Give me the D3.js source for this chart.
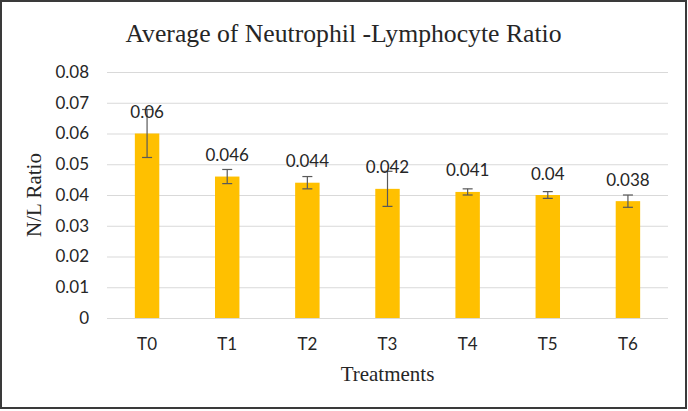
<!DOCTYPE html>
<html>
<head>
<meta charset="utf-8">
<script src="https://cdn.jsdelivr.net/npm/d3@7"></script>
<style>
  body { margin: 0; background: #fff; }
  svg text { fill: #262626; }
</style>
</head>
<body>
<div id="chart"></div>
<script>
var treatments = ['T0', 'T1', 'T2', 'T3', 'T4', 'T5', 'T6'];
var ratios = [0.06, 0.046, 0.044, 0.042, 0.041, 0.04, 0.038];
var errors = [0.0078, 0.0023, 0.002, 0.0057, 0.001, 0.0011, 0.002];
var yTicks = [0, 0.01, 0.02, 0.03, 0.04, 0.05, 0.06, 0.07, 0.08];

var width = 688, height = 411;
var margin = { top: 72, right: 20, bottom: 93, left: 107 };

var svg = d3.select('#chart')
    .append('svg')
    .attr('width', width)
    .attr('height', height);

svg.append('rect')
    .attr('x', 1)
    .attr('y', 1)
    .attr('width', 685)
    .attr('height', 407)
    .attr('fill', '#fff')
    .attr('stroke', '#3a3a3a')
    .attr('stroke-width', 2);

var x = d3.scaleBand()
    .domain(treatments)
    .range([margin.left, width - margin.right])
    .padding(0);

var y = d3.scaleLinear()
    .domain([0, 0.08])
    .range([height - margin.bottom, margin.top]);

var barW = x.bandwidth() * 0.305;

// gridlines
svg.append('g')
    .attr('transform', 'translate(' + margin.left + ',0)')
    .call(d3.axisLeft(y)
      .tickValues(yTicks)
      .tickSize(-(width - margin.left - margin.right))
      .tickPadding(18)
      .tickFormat(function (d) { return d === 0 ? '0' : d3.format('.2f')(d); }))
    .call(function (g) {
      g.select('.domain').remove();
      g.selectAll('.tick line').attr('stroke', '#d9d9d9').attr('stroke-width', 1);
      g.selectAll('.tick text')
          .attr('font-family', 'Lato, sans-serif')
          .attr('font-size', 17)
          .attr('fill', '#262626');
    });

// bars
svg.append('g').selectAll('rect')
    .data(ratios)
    .enter()
    .append('rect')
    .attr('x', function (d, i) { return x(treatments[i]) + x.bandwidth() / 2 - barW / 2; })
    .attr('y', function (d) { return y(d); })
    .attr('width', barW)
    .attr('height', function (d) { return y(0) - y(d); })
    .attr('fill', '#ffc000');

// error bars
var eb = svg.append('g')
    .attr('stroke', '#595959')
    .attr('stroke-width', 1.2)
    .selectAll('g')
    .data(ratios)
    .enter()
    .append('g')
    .attr('transform', function (d, i) {
      return 'translate(' + (x(treatments[i]) + x.bandwidth() / 2) + ',0)';
    });
eb.append('line')
    .attr('y1', function (d, i) { return y(d + errors[i]); })
    .attr('y2', function (d, i) { return y(d - errors[i]); });
eb.append('line')
    .attr('x1', -5).attr('x2', 5)
    .attr('y1', function (d, i) { return y(d + errors[i]); })
    .attr('y2', function (d, i) { return y(d + errors[i]); });
eb.append('line')
    .attr('x1', -5).attr('x2', 5)
    .attr('y1', function (d, i) { return y(d - errors[i]); })
    .attr('y2', function (d, i) { return y(d - errors[i]); });

// data labels
svg.append('g').selectAll('text')
    .data(ratios)
    .enter()
    .append('text')
    .attr('x', function (d, i) { return x(treatments[i]) + x.bandwidth() / 2; })
    .attr('y', function (d) { return y(d) - 15.5; })
    .attr('text-anchor', 'middle')
    .attr('font-family', 'Lato, sans-serif')
    .attr('font-size', 17)
    .text(function (d) { return String(d); });

// category labels
svg.append('g').selectAll('text')
    .data(treatments)
    .enter()
    .append('text')
    .attr('x', function (d) { return x(d) + x.bandwidth() / 2; })
    .attr('y', 350)
    .attr('text-anchor', 'middle')
    .attr('font-family', 'Lato, sans-serif')
    .attr('font-size', 17)
    .text(function (d) { return d; });

// titles
svg.append('text')
    .attr('x', 343.5)
    .attr('y', 42)
    .attr('text-anchor', 'middle')
    .attr('font-family', '"Liberation Serif", serif')
    .attr('font-size', 25.7)
    .text('Average of Neutrophil -Lymphocyte Ratio');

svg.append('text')
    .attr('x', 387.5)
    .attr('y', 381)
    .attr('text-anchor', 'middle')
    .attr('font-family', '"Liberation Serif", serif')
    .attr('font-size', 21)
    .text('Treatments');

svg.append('text')
    .attr('transform', 'translate(41,195) rotate(-90)')
    .attr('text-anchor', 'middle')
    .attr('font-family', '"Liberation Serif", serif')
    .attr('font-size', 21)
    .text('N/L Ratio');
</script>
</body>
</html>
